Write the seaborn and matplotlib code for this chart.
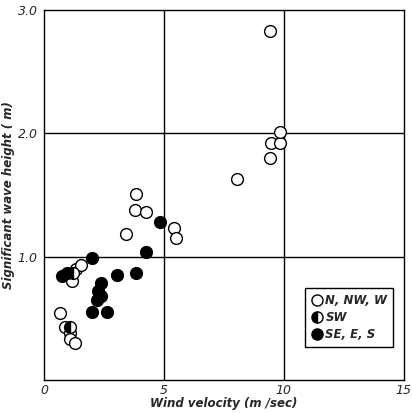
import matplotlib
matplotlib.use("Agg")
import matplotlib.pyplot as plt
import seaborn as sns
import pandas as pd
from matplotlib.lines import Line2D

# Data
open_x = [0.66, 0.87, 1.10, 1.07, 1.28, 1.15, 1.35, 1.55, 3.42, 3.80, 3.83, 4.24, 5.43, 5.51, 8.06, 9.41, 9.48, 9.85, 9.82, 9.41]
open_y = [0.54, 0.43, 0.38, 0.33, 0.30, 0.80, 0.90, 0.93, 1.18, 1.38, 1.51, 1.36, 1.23, 1.15, 1.63, 1.80, 1.92, 1.92, 2.01, 2.83]

sw_x = [1.07, 1.20]
sw_y = [0.43, 0.87]

filled_x = [0.73, 0.94, 2.00, 4.24, 4.82, 3.03, 3.83, 2.38, 2.25, 2.36, 2.22, 2.00, 2.63]
filled_y = [0.84, 0.87, 0.99, 1.04, 1.28, 0.85, 0.87, 0.79, 0.72, 0.68, 0.65, 0.555, 0.555]

x_ticks = [0, 5, 10, 15]
y_ticks = [1.0, 2.0, 3.0]
y_tick_labels = ["1.0", "2.0", "3.0"]
legend_labels = ["N, NW, W", "SW", "SE, E, S"]

sns.set_style("white")
plt.rcParams["font.family"] = ["DejaVu Sans"]

fig = plt.figure(figsize=(4.12, 4.13), dpi=100)
ax = fig.add_axes([0.107, 0.080, 0.873, 0.896])

df_open = pd.DataFrame({"x": open_x, "y": open_y})
df_fill = pd.DataFrame({"x": filled_x, "y": filled_y})
df_sw = pd.DataFrame({"x": sw_x, "y": sw_y})

sns.scatterplot(data=df_open, x="x", y="y", ax=ax, s=72, marker="o",
                facecolor="white", edgecolor="black", linewidth=1.0, zorder=3)
sns.scatterplot(data=df_fill, x="x", y="y", ax=ax, s=72, marker="o",
                color="black", edgecolor="black", linewidth=1.0, zorder=4)
sns.lineplot(data=df_sw, x="x", y="y", ax=ax, estimator=None, sort=False,
             linestyle="", marker="o", markersize=8.5, fillstyle="left",
             color="black", markerfacecoloralt="white", markeredgecolor="black",
             markeredgewidth=1.0, zorder=5)

ax.set_xlim(0, 15)
ax.set_ylim(0, 3.0)
ax.set_xticks(x_ticks)
ax.set_xticklabels([str(t) for t in x_ticks], fontstyle="italic", fontsize=9)
ax.set_yticks(y_ticks)
ax.set_yticklabels(y_tick_labels, fontstyle="italic", fontsize=9)
ax.tick_params(axis="x", length=0, pad=3)
ax.tick_params(axis="y", length=3, direction="out", color="black", pad=1.5)

for v in [5, 10]:
    ax.axvline(v, color="black", lw=1.0, zorder=1)
for v in [1.0, 2.0]:
    ax.axhline(v, color="black", lw=1.0, zorder=1)

for sp in ax.spines.values():
    sp.set_color("black")
    sp.set_linewidth(1.0)

ax.set_xlabel("Wind velocity (m /sec)", fontstyle="italic", fontweight="bold",
              fontsize=8.5, labelpad=0)
ax.set_ylabel("Significant wave height ( m)", fontstyle="italic", fontweight="bold",
              fontsize=8.5, labelpad=2)

handles = [
    Line2D([], [], linestyle="", marker="o", markersize=8, markerfacecolor="white",
           markeredgecolor="black"),
    Line2D([], [], linestyle="", marker="o", markersize=8, fillstyle="left",
           color="black", markerfacecoloralt="white", markeredgecolor="black"),
    Line2D([], [], linestyle="", marker="o", markersize=8, markerfacecolor="black",
           markeredgecolor="black"),
]
leg = ax.legend(handles, legend_labels, loc="upper left", bbox_to_anchor=(0.71, 0.265),
                frameon=True, fancybox=False, edgecolor="black", framealpha=1,
                handletextpad=0.2, handlelength=1.0, borderpad=0.5, labelspacing=0.35,
                prop={"style": "italic", "weight": "bold", "size": 8.5})
leg.get_frame().set_linewidth(1.0)

fig.savefig("out.png", dpi=100)
